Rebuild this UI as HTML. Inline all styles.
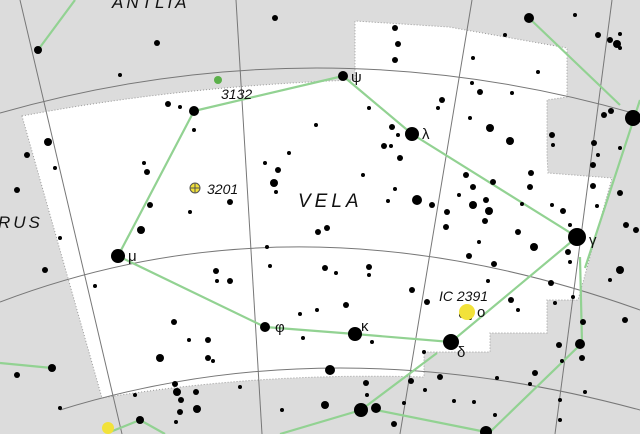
<!DOCTYPE html>
<html><head><meta charset="utf-8"><style>
html,body{margin:0;padding:0;background:#dcdcdc}
svg{display:block}
text{font-family:"Liberation Sans","DejaVu Sans",sans-serif;font-style:italic;fill:#111}
</style></head><body>
<svg width="640" height="434" viewBox="0 0 640 434" xmlns="http://www.w3.org/2000/svg">
<rect width="640" height="434" fill="#dcdcdc"/>
<path d="M22,116 Q180,86 355,80 L355,21 L449,27 L567,48 L567,97 L547,100 L547,155 L548,173 L612,178 L578,300 L547,300 L547,333 L490,333 L490,352 L424,352 L424,377 Q260,372 102,398 Z" fill="#fff"/>
<path d="M22,116 Q180,86 355,80 L355,21 L449,27 L567,48 L567,97 L547,100 L547,155 L548,173 L612,178 L578,300 L547,300 L547,333 L490,333 L490,352 L424,352 L424,377 Q260,372 102,398 Z" fill="none" stroke="#999" stroke-width="1" stroke-dasharray="1,2"/>
<g fill="none" stroke="#777" stroke-width="1">
<path d="M0,113 Q320,22 640,115"/>
<path d="M0,302 Q300,188 640,310"/>
<path d="M60,410 Q330,326 640,410"/>
<path d="M20,0 L122,434"/>
<path d="M236,0 L262,434"/>
<path d="M472,0 L400,434"/>
<path d="M612,0 L555,434"/>
</g>
<g fill="none" stroke="#92d292" stroke-width="2.2" id="lines"></g>
<g id="stars" fill="#000"></g>
<circle cx="195" cy="188" r="5" fill="#f2e23a" stroke="#555"/>
<path d="M190,188 H200 M195,183 V193" stroke="#555"/>
<circle cx="218" cy="80" r="4" fill="#5bb04a"/>
<circle cx="467" cy="312" r="8" fill="#f2e23a"/>
<circle cx="108" cy="428" r="6" fill="#f2e23a"/>
<g>
<text x="112" y="8" font-size="17" letter-spacing="3">ANTLIA</text>
<text x="-2" y="228" font-size="17" letter-spacing="3">RUS</text>
<text x="298" y="207" font-size="19" letter-spacing="4">VELA</text>
<text x="207" y="194" font-size="14">3201</text>
<text x="221" y="99" font-size="14">3132</text>
<text x="439" y="301" font-size="14">IC 2391</text>
<g font-size="15">
<text x="351" y="82" style="font-style:normal">ψ</text>
<text x="422" y="139" style="font-style:normal">λ</text>
<text x="589" y="245" style="font-style:normal">γ</text>
<text x="457" y="357" style="font-style:normal">δ</text>
<text x="361" y="331" style="font-style:normal">κ</text>
<text x="275" y="332" style="font-style:normal">φ</text>
<text x="128" y="261" style="font-style:normal">μ</text>
<text x="477" y="317" style="font-style:normal">o</text>
</g>
</g>
</svg>
<script>
const starData = [
[343,76,5],[412,134,7],[577,237,9],[451,342,8],[355,334,7],[265,327,5],[118,256,7],[194,111,5],[633,118,8],[486,432,6],[361,410,7],[376,408,5],
[38,50,4],[157,43,3],[275,18,3],[395,28,3],[398,44,3],[395,60,3],[473,58,2],[505,35,2],[529,18,5],[575,15,2],[610,40,3],[617,44,4],[598,35,3],[620,34,2],[620,48,2],
[168,104,3],[180,107,2],[194,130,2],[48,142,4],[27,155,3],[55,168,2],[144,163,2],[147,172,3],[150,205,3],[190,212,2],[141,230,4],[60,238,2],[45,270,3],[17,190,3],[120,75,2],
[316,125,2],[289,153,2],[265,163,2],[278,170,3],[274,183,4],[276,192,2],[230,202,3],[318,232,3],[327,228,3],[369,108,2],[392,127,3],[398,135,2],[384,146,3],[391,146,2],[400,158,3],[363,175,2],[395,189,2],[388,201,2],[417,200,5],[442,100,3],[438,108,2],[472,83,2],[470,118,2],[490,128,4],[510,141,4],[480,92,3],[512,93,2],[538,72,2],[552,135,3],[553,145,2],
[466,175,3],[493,182,3],[473,187,3],[486,200,3],[473,205,4],[459,195,2],[432,205,3],[489,211,4],[522,204,2],[531,173,3],[530,187,3],[552,205,2],[563,211,3],[593,186,3],[597,206,2],[447,212,3],[485,221,3],[446,227,3],[479,242,2],[518,232,3],[534,247,4],[570,225,2],[568,252,3],[570,262,2],[469,256,3],[494,264,3],
[267,247,2],[270,266,2],[325,268,3],[336,273,2],[369,267,3],[369,275,2],[216,271,3],[217,281,2],[230,281,3],[95,286,2],[412,290,3],[427,302,3],[488,281,2],[551,283,3],[573,297,2],[511,300,3],[518,310,2],[555,303,2],
[174,322,3],[189,340,2],[208,340,3],[300,314,2],[317,310,2],[346,305,3],[303,338,2],[372,342,2],[160,358,4],[208,358,3],[213,361,2],[330,370,5],[366,383,3],[367,395,2],[411,381,3],[424,352,2],[440,377,3],[425,390,2],[497,378,2],[535,373,3],[559,345,3],[562,361,2],[582,358,3],[580,344,5],[583,322,3],[625,320,3],[610,280,2],[620,270,4],[626,225,3],[636,230,3],[620,193,3],[598,155,2],[594,143,3],[611,111,3],[620,148,2],[604,115,3],[593,165,3],
[325,405,4],[282,410,2],[240,387,2],[175,384,3],[177,392,4],[196,392,3],[181,400,3],[180,412,3],[197,409,4],[176,422,2],[140,420,4],[60,408,2],[52,368,4],[17,375,3],[404,403,2],[394,424,3],[454,401,2],[474,402,2],[495,415,2],[530,384,2],[560,400,2],[585,392,2],[560,420,2],[135,395,2],[462,315,3],[470,318,2]
];
const lineData = [
[[194,111],[343,76],[412,134],[577,237],[451,342],[355,334],[265,327],[118,256],[194,111]],
[[38,50],[75,0]],[[529,18],[620,105]],[[640,100],[585,268]],[[580,257],[582,343],[490,432]],
[[437,353],[361,410],[280,434]],[[376,410],[486,432]],[[0,363],[52,368]],[[110,432],[140,420],[165,434]]
];
const ns='http://www.w3.org/2000/svg';
const sg=document.getElementById('stars');
starData.forEach(s=>{const c=document.createElementNS(ns,'circle');
c.setAttribute('cx',s[0]);c.setAttribute('cy',s[1]);c.setAttribute('r',s[2]);


sg.appendChild(c);});
const lg=document.getElementById('lines');
lineData.forEach(l=>{const p=document.createElementNS(ns,'polyline');
p.setAttribute('points',l.map(q=>q.join(',')).join(' '));


lg.appendChild(p);});
</script>
</body></html>
